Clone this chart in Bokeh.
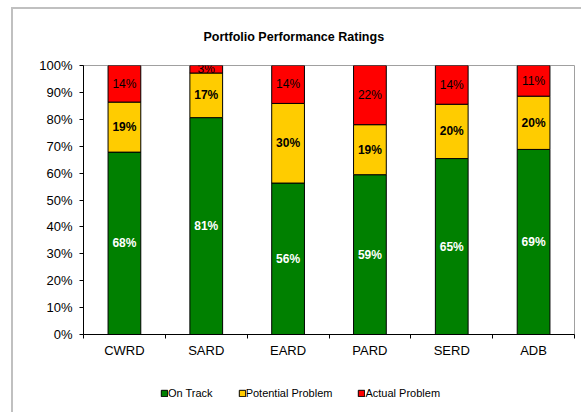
from bokeh.plotting import figure
from bokeh.layouts import column
from bokeh.models import (ColumnDataSource, FixedTicker, NumeralTickFormatter, Legend,
                          LegendItem, Title, Range1d)
from bokeh.core.properties import value
from bokeh.embed import file_html
from bokeh.resources import INLINE

categories = ["CWRD", "SARD", "EARD", "PARD", "SERD", "ADB"]
on_track = [67.8, 80.7, 56.3, 59.4, 65.4, 68.8]
potential = [18.6, 16.6, 29.6, 18.6, 20.2, 19.8]
actual = [13.6, 2.8, 14.1, 22.0, 14.4, 11.4]
series_names = ["On Track", "Potential Problem", "Actual Problem"]
colors = ["#008000", "#FFCC00", "#FF0000"]
y_ticks = [i / 10 for i in range(11)]

FONT = "Liberation Sans"
GREY = "#c0c0c0"

n = len(categories)
xs = [i + 0.5 for i in range(n)]
totals = [a + b + c for a, b, c in zip(on_track, potential, actual)]

p = figure(width=581, height=360, output_backend="svg", toolbar_location=None,
           x_range=Range1d(0, n), y_range=Range1d(0, 1),
           min_border_left=83, min_border_right=7, min_border_top=65, min_border_bottom=25)
p.styles = {
    "background": (f"linear-gradient({GREY}, {GREY}) 11px 7px / calc(100% - 11px) 2px no-repeat, "
                   f"linear-gradient({GREY}, {GREY}) 11px 7px / 2px calc(100% - 7px) no-repeat, white")
}
p.xgrid.visible = False
p.ygrid.visible = False
p.outline_line_color = "#a0a0a0"
p.outline_line_width = 1
p.background_fill_color = "white"
p.border_fill_alpha = 0

title = Title(text="Portfolio Performance Ratings", align="left", offset=120,
              text_font=FONT, text_font_size="12.5px", text_font_style="bold",
              text_color="black", standoff=44)
p.add_layout(title, "above")

# legend strip below the chart (its own plot, the same series drawn out of view)
lg = figure(width=581, height=52, output_backend="svg", toolbar_location=None,
            x_axis_location=None, y_axis_location=None,
            x_range=Range1d(0, n), y_range=Range1d(2, 3),
            min_border_left=0, min_border_right=0, min_border_top=0, min_border_bottom=0)
lg.styles = {
    "background": f"linear-gradient({GREY}, {GREY}) 11px 0px / 2px 100% no-repeat, white"
}
lg.xgrid.visible = False
lg.ygrid.visible = False
lg.outline_line_color = None
lg.background_fill_alpha = 0
lg.border_fill_alpha = 0

bottom = [0.0] * n
key_renderers = []
label_styles = [("white", "bold"), ("black", "bold"), ("black", "normal")]
for series, col, (tcol, tstyle) in zip([on_track, potential, actual], colors, label_styles):
    frac = [v / t for v, t in zip(series, totals)]
    top = [b + f for b, f in zip(bottom, frac)]
    src = ColumnDataSource(dict(x=xs, bottom=bottom, top=top,
                                mid=[(b + t) / 2 for b, t in zip(bottom, top)],
                                lbl=[f"{v:.0f}%" for v in series]))
    p.vbar(x="x", width=0.4, bottom="bottom", top="top", source=src,
           fill_color=col, line_color="black", line_width=1)
    p.text(x="x", y="mid", text="lbl", source=src, text_align="center",
           text_baseline="middle", text_font=value(FONT), text_font_size="12px",
           text_font_style=tstyle, text_color=tcol)
    key_renderers.append(lg.vbar(x="x", width=0.4, bottom="bottom", top="top", source=src,
                                 fill_color=col, line_color="black", line_width=1))
    bottom = top

# axes
xax = p.xaxis[0]
xax.ticker = FixedTicker(ticks=xs, minor_ticks=[i for i in range(n + 1)])
xax.major_label_overrides = {x: c for x, c in zip(xs, categories)}
xax.major_tick_out = 0
xax.major_tick_in = 0
xax.minor_tick_out = 4
xax.minor_tick_in = 0
xax.minor_tick_line_color = "black"
xax.axis_line_color = "black"
xax.major_label_standoff = 4
xax.major_label_text_font = FONT
xax.major_label_text_font_size = "13px"
xax.major_label_text_color = "black"

yax = p.yaxis[0]
yax.ticker = FixedTicker(ticks=y_ticks)
yax.formatter = NumeralTickFormatter(format="0%")
yax.major_tick_out = 4
yax.major_tick_in = 0
yax.minor_tick_out = 0
yax.minor_tick_in = 0
yax.axis_line_color = "black"
yax.major_tick_line_color = "black"
yax.major_label_standoff = 7
yax.major_label_text_font = FONT
yax.major_label_text_font_size = "13px"
yax.major_label_text_color = "black"

legend = Legend(items=[LegendItem(label=nm, renderers=[r]) for nm, r in zip(series_names, key_renderers)],
                orientation="horizontal", location=(77, 12), padding=0, margin=0, spacing=25,
                glyph_width=8, glyph_height=8, label_standoff=0, label_height=14,
                label_text_font=FONT, label_text_font_size="11px", label_text_color="black",
                border_line_color=None, background_fill_alpha=0)
lg.add_layout(legend, "center")

layout = column(p, lg, spacing=0)
open("out.html", "w").write(file_html(layout, INLINE))
